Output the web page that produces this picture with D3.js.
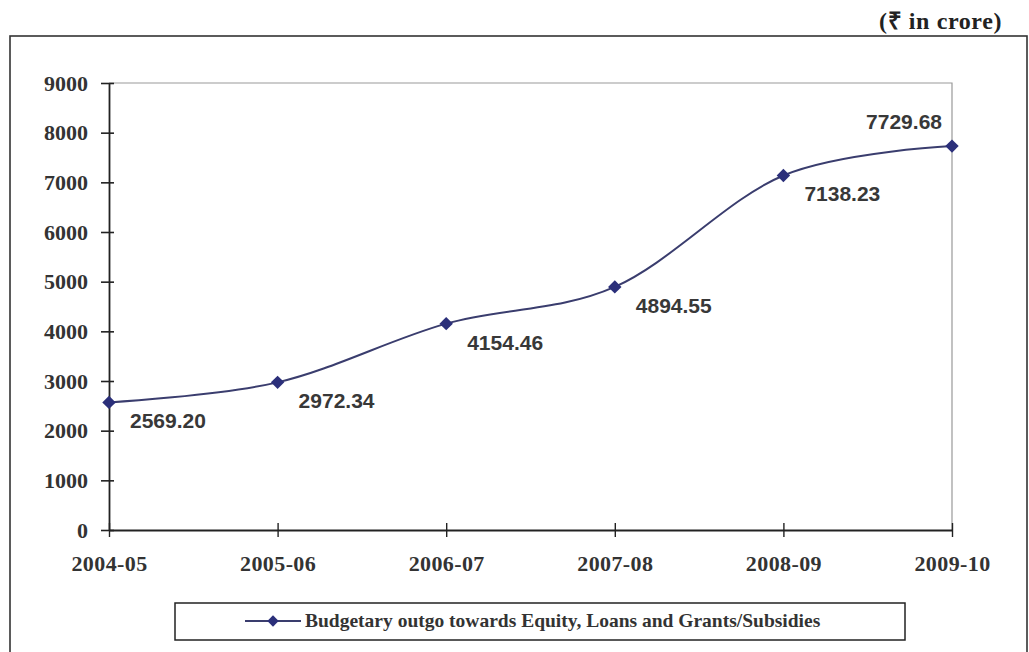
<!DOCTYPE html>
<html>
<head>
<meta charset="utf-8">
<script src="https://cdn.jsdelivr.net/npm/d3@7"></script>
<style>
  body { margin: 0; background: #fff; }
  svg { display: block; }
</style>
</head>
<body>
<svg id="chart" width="1029" height="652"></svg>
<script>
// chart data
const years = ['2004-05', '2005-06', '2006-07', '2007-08', '2008-09', '2009-10'];
const outgo = [2569.20, 2972.34, 4154.46, 4894.55, 7138.23, 7729.68];
const yTicks = [0, 1000, 2000, 3000, 4000, 5000, 6000, 7000, 8000, 9000];
const seriesName = 'Budgetary outgo towards Equity, Loans and Grants/Subsidies';

const svg = d3.select('#chart');
const serif = '"Liberation Serif", "Times New Roman", serif';
const sans = '"Liberation Sans", Arial, sans-serif';
const navy = '#2b2f7a';

// unit note at top right
svg.append('text')
    .attr('x', 1002).attr('y', 29)
    .attr('text-anchor', 'end')
    .attr('font-family', serif)
    .attr('font-weight', 'bold')
    .attr('font-size', 24)
    .attr('letter-spacing', 0.6)
    .attr('fill', '#222')
    .text('(₹ in crore)');

// outer frame (bottom edge falls outside the picture)
svg.append('rect')
    .attr('x', 10).attr('y', 36)
    .attr('width', 1017).attr('height', 640)
    .attr('fill', 'none')
    .attr('stroke', '#333')
    .attr('stroke-width', 1.6);

const plotL = 109, plotR = 952, plotT = 83, plotB = 530;

const x = d3.scalePoint().domain(years).range([plotL, plotR]);
const y = d3.scaleLinear().domain([0, 9000]).range([plotB, plotT]);

// plot area border (top and right in gray)
svg.append('path')
    .attr('d', `M${plotL},${plotT}H${plotR}V${plotB}`)
    .attr('fill', 'none')
    .attr('stroke', '#999')
    .attr('stroke-width', 1.2);

// y axis, ticks cross the line
const yAxis = svg.append('g')
    .attr('transform', `translate(${plotL},0)`)
    .call(d3.axisLeft(y).tickValues(yTicks).tickFormat(d3.format('d'))
        .tickSize(8).tickPadding(13).tickSizeOuter(0));
yAxis.select('.domain').attr('stroke', '#222').attr('stroke-width', 1.8);
yAxis.selectAll('.tick line')
    .attr('x1', 5)
    .attr('stroke', '#222').attr('stroke-width', 1.6);
yAxis.selectAll('.tick text')
    .attr('font-family', serif)
    .attr('font-weight', 'bold')
    .attr('font-size', 22)
    .attr('fill', '#333');

// x axis with ticks crossing the line
const xAxis = svg.append('g')
    .attr('transform', `translate(0,${plotB})`)
    .call(d3.axisBottom(x).tickSize(0).tickPadding(25).tickSizeOuter(0));
xAxis.select('.domain').attr('stroke', '#222').attr('stroke-width', 1.8);
xAxis.selectAll('.tick line')
    .attr('y1', -7).attr('y2', 7)
    .attr('stroke', '#222').attr('stroke-width', 1.4);
xAxis.selectAll('.tick text')
    .attr('font-family', serif)
    .attr('font-weight', 'bold')
    .attr('font-size', 22)
    .attr('letter-spacing', 0.4)
    .attr('fill', '#333');

const pts = years.map((yr, i) => ({ year: yr, value: outgo[i] }));

// smoothed line
const line = d3.line()
    .x(d => x(d.year))
    .y(d => y(d.value))
    .curve(d3.curveCardinal.tension(0));

svg.append('path')
    .datum(pts)
    .attr('d', line)
    .attr('fill', 'none')
    .attr('stroke', '#3a3d6e')
    .attr('stroke-width', 2);

// diamond markers
svg.selectAll('.marker')
    .data(pts)
    .enter()
    .append('path')
    .attr('class', 'marker')
    .attr('transform', d => `translate(${x(d.year)},${y(d.value)}) rotate(45)`)
    .attr('d', d3.symbol().type(d3.symbolSquare).size(90))
    .attr('fill', navy);

// value labels: below-right, last one above-left
const last = pts.length - 1;
svg.selectAll('.vlabel')
    .data(pts)
    .enter()
    .append('text')
    .attr('class', 'vlabel')
    .attr('x', (d, i) => i === last ? x(d.year) - 10 : x(d.year) + 21)
    .attr('y', (d, i) => i === last ? y(d.value) - 17 : y(d.value) + 26)
    .attr('text-anchor', (d, i) => i === last ? 'end' : 'start')
    .attr('font-family', sans)
    .attr('font-weight', 'bold')
    .attr('font-size', 21)
    .attr('fill', '#383838')
    .text(d => d.value.toFixed(2));

// legend
const lg = svg.append('g');
lg.append('rect')
    .attr('x', 175).attr('y', 603)
    .attr('width', 730).attr('height', 37)
    .attr('fill', 'none')
    .attr('stroke', '#222')
    .attr('stroke-width', 1.5);
lg.append('line')
    .attr('x1', 245).attr('x2', 301)
    .attr('y1', 621).attr('y2', 621)
    .attr('stroke', '#3a3d6e').attr('stroke-width', 2);
lg.append('path')
    .attr('transform', 'translate(273,621) rotate(45)')
    .attr('d', d3.symbol().type(d3.symbolSquare).size(64))
    .attr('fill', navy);
lg.append('text')
    .attr('x', 305).attr('y', 627)
    .attr('font-family', serif)
    .attr('font-weight', 'bold')
    .attr('font-size', 19.5)
    .attr('fill', '#333')
    .text(seriesName);
</script>
</body>
</html>
